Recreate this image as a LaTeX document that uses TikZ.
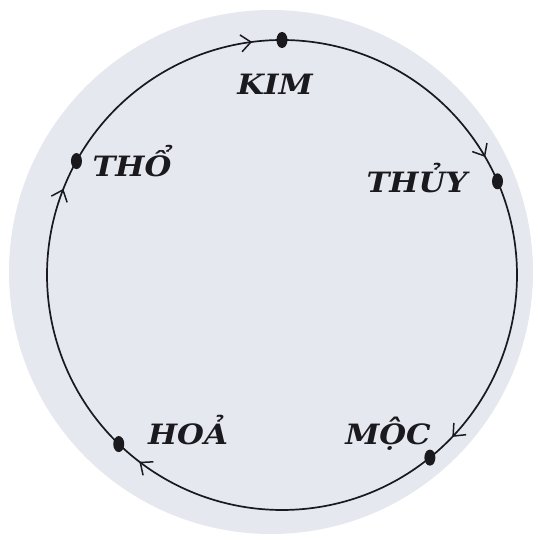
\documentclass[tikz,border=0pt]{standalone}
\usepackage{fontspec}
\newfontfamily\labfont[FakeStretch=1.1]{DejaVu Serif}
\usetikzlibrary{arrows.meta,decorations.markings,shapes.geometric,calc}
\definecolor{paper}{RGB}{230,232,240}
\definecolor{ink}{RGB}{25,25,30}
\begin{document}
\begin{tikzpicture}[x=1pt,y=1pt,
  elem/.style={ellipse, fill=ink, inner sep=0pt, minimum width=11pt, minimum height=16pt},
  lab/.style={font=\labfont\bfseries\itshape\fontsize{28}{30}\selectfont, text=ink, anchor=base, inner sep=0pt},
  flow/.style={draw=ink, line width=1.7pt, postaction={decorate},
    decoration={markings, mark=at position #1 with {\arrow{Straight Barb[length=10pt,width=17pt,line width=1.5pt]}}}}
]
\useasboundingbox (0,0) rectangle (540,542);
\fill[paper] (271,270) circle[radius=262];
\coordinate (O) at (282,267);
\def\R{235}
\node[elem] (kim)  at ($(O)+(90:\R)$) {};
\node[elem] (thuy) at ($(O)+(23.5:\R)$) {};
\node[elem] (moc)  at ($(O)+(-51:\R)$) {};
\node[elem] (hoa)  at ($(O)+(-134:\R)$) {};
\node[elem] (tho)  at ($(O)+(151:\R)$) {};
\draw[flow=0.9]  (kim.center)  arc[start angle=90,   end angle=23.5, radius=\R];
\draw[flow=0.9]  (thuy.center) arc[start angle=23.5, end angle=-51,  radius=\R];
\draw[flow=0.92] (moc.center)  arc[start angle=-51,  end angle=-134, radius=\R];
\draw[flow=0.9]  (hoa.center)  arc[start angle=-134, end angle=-209, radius=\R];
\draw[flow=0.88] (tho.center)  arc[start angle=151,  end angle=90,   radius=\R];
\node[lab] (kimL)  at (275,447) {KIM};
\node[lab] (thuyL) at (417,349) {THỦY};
\node[lab] (mocL)  at (388,97)  {MỘC};
\node[lab] (hoaL)  at (188,97)  {HOẢ};
\node[lab] (thoL)  at (132,365) {THỔ};
\end{tikzpicture}
\end{document}
